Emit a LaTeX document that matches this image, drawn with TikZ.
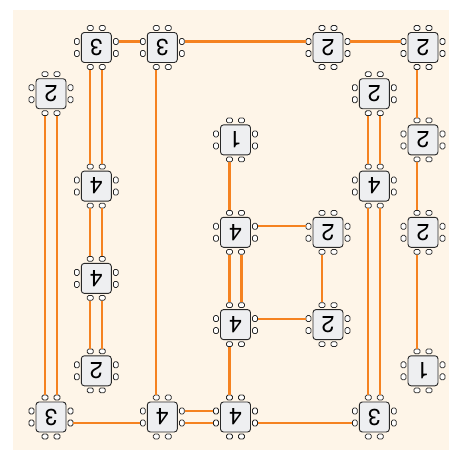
\documentclass[tikz,border=0pt]{standalone}
\usepackage{fontspec}
\setmainfont{TeX Gyre Heros}
\definecolor{cream}{RGB}{254,245,232}
\definecolor{wire}{RGB}{245,130,32}
\definecolor{boxfill}{RGB}{238,239,241}
\definecolor{boxline}{RGB}{40,40,40}
\newcommand{\desk}[4]{%
  \begin{scope}[shift={(#2,#3)}]
    \node[deskbox] (#1) at (0,0) {};
    \node[desktxt] (#1-txt) at (0,0) {#4};
    \node[porth] (#1-T1) at (-6,-19.5) {};
    \node[porth] (#1-T2) at (6,-19.5) {};
    \node[porth] (#1-B1) at (-6,19.5) {};
    \node[porth] (#1-B2) at (6,19.5) {};
    \node[portv] (#1-L1) at (-19.5,-6) {};
    \node[portv] (#1-L2) at (-19.5,6) {};
    \node[portv] (#1-R1) at (19.5,-6) {};
    \node[portv] (#1-R2) at (19.5,6) {};
  \end{scope}}
\begin{document}
\begin{tikzpicture}[x=1pt,y=-1pt,
  deskbox/.style={draw=boxline,fill=boxfill,rounded corners=3pt,minimum size=30pt,inner sep=0pt,line width=0.9pt},
  desktxt/.style={font=\fontsize{23}{23}\selectfont,rotate=180,inner sep=0pt,text=black},
  porth/.style={draw=boxline,fill=white,rounded corners=1.4pt,minimum width=6pt,minimum height=4.8pt,inner sep=0pt,line width=0.75pt},
  portv/.style={draw=boxline,fill=white,rounded corners=1.4pt,minimum width=4.8pt,minimum height=6pt,inner sep=0pt,line width=0.75pt},
  wired/.style={draw=wire,line width=2.2pt}]
\useasboundingbox (0,0) rectangle (449,450);
\fill[cream] (12.7,10) rectangle (449,450);
\desk{A}{96.3}{47.5}{3}
\desk{B}{162.3}{47.5}{3}
\desk{C}{328}{47.5}{2}
\desk{D}{423}{47.5}{2}
\desk{E}{51}{93.7}{2}
\desk{F}{374.3}{93.7}{2}
\desk{G}{235.5}{139.9}{1}
\desk{H}{423}{139.9}{2}
\desk{I}{96.3}{186.1}{4}
\desk{J}{374.3}{186.1}{4}
\desk{K}{235.5}{232.3}{4}
\desk{L}{328}{232.3}{2}
\desk{M}{423}{232.3}{2}
\desk{N}{96.3}{278.4}{4}
\desk{O}{235.5}{324.6}{4}
\desk{P}{328}{324.6}{2}
\desk{Q}{96.3}{370.8}{2}
\desk{R}{423}{370.8}{1}
\desk{S}{51}{417}{3}
\desk{T}{162.3}{417}{4}
\desk{U}{235.5}{417}{4}
\desk{V}{374.3}{417}{3}
\path[wired] (A-R1) -- (B-L1);
\path[wired] (B-R1) -- (C-L1);
\path[wired] (C-R1) -- (D-L1);
\path[wired] (D-B1) -- (H-T1);
\path[wired] (H-B1) -- (M-T1);
\path[wired] (M-B1) -- (R-T1);
\path[wired] (A-B1) -- (I-T1);
\path[wired] (A-B2) -- (I-T2);
\path[wired] (I-B1) -- (N-T1);
\path[wired] (I-B2) -- (N-T2);
\path[wired] (N-B1) -- (Q-T1);
\path[wired] (N-B2) -- (Q-T2);
\path[wired] (B-B1) -- (T-T1);
\path[wired] (E-B1) -- (S-T1);
\path[wired] (E-B2) -- (S-T2);
\path[wired] (S-R2) -- (T-L2);
\path[wired] (T-R1) -- (U-L1);
\path[wired] (T-R2) -- (U-L2);
\path[wired] (U-R2) -- (V-L2);
\path[wired] (G-B1) -- (K-T1);
\path[wired] (K-R1) -- (L-L1);
\path[wired] (K-B1) -- (O-T1);
\path[wired] (K-B2) -- (O-T2);
\path[wired] (L-B1) -- (P-T1);
\path[wired] (O-R1) -- (P-L1);
\path[wired] (O-B1) -- (U-T1);
\path[wired] (F-B1) -- (J-T1);
\path[wired] (F-B2) -- (J-T2);
\path[wired] (J-B1) -- (V-T1);
\path[wired] (J-B2) -- (V-T2);
\end{tikzpicture}
\end{document}
